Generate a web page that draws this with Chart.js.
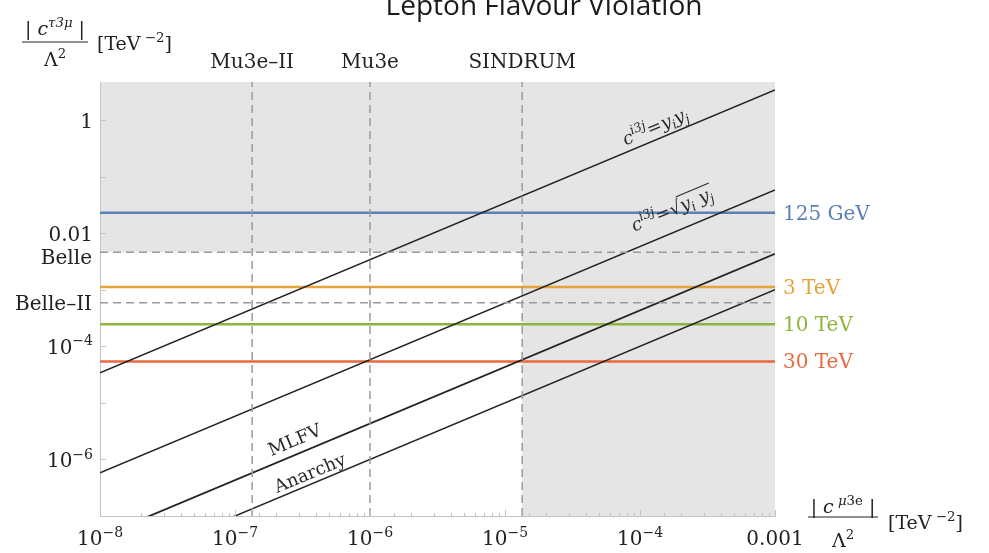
<!DOCTYPE html>
<html>
<head>
<meta charset="utf-8">
<script src="https://cdn.jsdelivr.net/npm/chart.js@4/dist/chart.umd.min.js"></script>
<style>
  body { margin: 0; background: #fff; }
</style>
</head>
<body>
<canvas id="c" width="989" height="553"></canvas>
<script>
// axis ranges
const xMin = 1e-8, xMax = 1e-3;
const yMin = 1e-7, yMax = 4.7;

// benchmark lines c/Λ² (tau) vs c/Λ² (mu), end points at xMin and xMax
const diagX = [1e-8, 1e-3];
const yukawaY = [3.4e-5, 3.4];
const sqrtYukawaY = [5.8e-7, 0.058];
const mlfvY = [4.3e-8, 4.3e-3];
const anarchyY = [1e-8, 1e-3];

// new physics scales (horizontal lines)
const scaleNames = ["125 GeV", "3 TeV", "10 TeV", "30 TeV"];
const scaleValues = [0.023, 1.12e-3, 2.45e-4, 5.4e-5];
const scaleColors = ["#5d80b6", "#e5a43a", "#8db43c", "#e8693f"];

// experimental reach
const muExpNames = ["Mu3e–II", "Mu3e", "SINDRUM"];
const muExpValues = [1.34e-7, 1e-6, 1.34e-5];
const tauExpNames = ["Belle", "Belle–II"];
const tauExpValues = [4.6e-3, 5.9e-4];

// tick labels: [mantissa, exponent]
const xTickValues = [1e-8, 1e-7, 1e-6, 1e-5, 1e-4, 1e-3];
const xTickLabels = [["10", "−8"], ["10", "−7"], ["10", "−6"], ["10", "−5"], ["10", "−4"], ["0.001", ""]];
const yTickValues = [1, 0.01, 1e-4, 1e-6];
const yTickLabels = [["1", ""], ["0.01", ""], ["10", "−4"], ["10", "−6"]];

const serif = '"DejaVu Serif", "Liberation Serif", serif';
const axisGray = "#c4c4c4";
const dashGray = "#9a9a9a";
const ink = "#222";

function isDecade(v) {
    const e = Math.log10(v);
    return Math.abs(e - Math.round(e)) < 1e-6;
}

// draw a run of text pieces; flags: i italic, ^ superscript, _ subscript, o overline
function drawRich(ctx, parts, x, y, size, align, color) {
    const items = parts.map(([t, f = ""]) => {
        const small = f.includes("^") || f.includes("_");
        const sz = small ? size * 0.7 : size;
        const font = (f.includes("i") ? "italic " : "") + sz + "px " + serif;
        ctx.font = font;
        return {
            t, font,
            w: ctx.measureText(t).width,
            dy: f.includes("^") ? -size * 0.42 : f.includes("_") ? size * 0.2 : 0,
            ov: f.includes("o")
        };
    });
    const total = items.reduce((a, it) => a + it.w, 0);
    let cx = align === "right" ? x - total : align === "center" ? x - total / 2 : x;
    ctx.fillStyle = color;
    ctx.textAlign = "left";
    ctx.textBaseline = "alphabetic";
    let ovStart = null, ovEnd = null;
    items.forEach(it => {
        ctx.font = it.font;
        ctx.fillText(it.t, cx, y + it.dy);
        if (it.ov) {
            if (ovStart === null) ovStart = cx;
            ovEnd = cx + it.w;
        }
        cx += it.w;
    });
    if (ovStart !== null) {
        ctx.strokeStyle = color;
        ctx.lineWidth = 1;
        ctx.beginPath();
        ctx.moveTo(ovStart - 1, y - size * 0.9);
        ctx.lineTo(ovEnd + 1, y - size * 0.9);
        ctx.stroke();
    }
}

const deco = {
    id: "deco",
    beforeDraw(chart) {
        const { ctx, chartArea: a, scales: { x, y } } = chart;
        ctx.save();
        ctx.fillStyle = "#e5e5e5";
        const yb = y.getPixelForValue(tauExpValues[0]);
        ctx.fillRect(a.left, a.top, a.right - a.left, yb - a.top);
        const xs = x.getPixelForValue(muExpValues[2]);
        ctx.fillRect(xs, yb, a.right - xs, a.bottom - yb);
        ctx.restore();
    },
    afterDraw(chart) {
        const { ctx, chartArea: a, scales: { x, y } } = chart;
        ctx.save();

        // inward tick marks, taken from the scales' own ticks
        ctx.strokeStyle = axisGray;
        ctx.lineWidth = 1;
        ctx.beginPath();
        x.ticks.forEach(t => {
            const px = Math.round(x.getPixelForValue(t.value)) + 0.5;
            const len = isDecade(t.value) ? 6 : 3;
            ctx.moveTo(px, a.bottom);
            ctx.lineTo(px, a.bottom - len);
        });
        y.ticks.forEach(t => {
            if (!isDecade(t.value)) return;
            const py = Math.round(y.getPixelForValue(t.value)) + 0.5;
            ctx.moveTo(a.left, py);
            ctx.lineTo(a.left + 6, py);
        });
        ctx.stroke();

        // title
        ctx.font = '28px "Open Sans", sans-serif';
        ctx.fillStyle = "#1a1a1a";
        ctx.textAlign = "center";
        ctx.textBaseline = "alphabetic";
        ctx.fillText("Lepton Flavour Violation", 544, 15);

        // tick labels
        xTickValues.forEach((v, i) => {
            const [m, e] = xTickLabels[i];
            drawRich(ctx, [[m], [e, "^"]], x.getPixelForValue(v), 545, 20, "center", ink);
        });
        yTickValues.forEach((v, i) => {
            const [m, e] = yTickLabels[i];
            drawRich(ctx, [[m], [e, "^"]], 93, y.getPixelForValue(v) + 7.5, 20, "right", ink);
        });

        // experiment labels
        muExpValues.forEach((v, i) => {
            drawRich(ctx, [[muExpNames[i]]], x.getPixelForValue(v), 68, 20, "center", ink);
        });
        const tauDy = [12, 7];
        tauExpValues.forEach((v, i) => {
            drawRich(ctx, [[tauExpNames[i]]], 92, y.getPixelForValue(v) + tauDy[i], 20, "right", ink);
        });

        // scale labels at the right
        scaleValues.forEach((v, i) => {
            drawRich(ctx, [[scaleNames[i]]], a.right + 8, y.getPixelForValue(v) + 7, 20, "left", scaleColors[i]);
        });

        // axis titles
        drawRich(ctx, [["|"], [" "], ["c", "i"], ["τ3μ", "i^"], [" "], ["|"]], 55, 35, 19, "center", ink);
        ctx.fillStyle = ink;
        ctx.fillRect(22, 41.5, 66, 1);
        drawRich(ctx, [["Λ"], ["2", "^"]], 55, 66, 19, "center", ink);
        drawRich(ctx, [["[TeV"], [" −2", "^"], ["]"]], 97, 50, 19, "left", ink);

        drawRich(ctx, [["|"], [" "], ["c", "i"], [" μ", "i^"], ["3e", "^"], [" "], ["|"]], 843, 513, 19, "center", ink);
        ctx.fillStyle = ink;
        ctx.fillRect(808, 516.5, 70, 1);
        drawRich(ctx, [["Λ"], ["2", "^"]], 843, 547, 19, "center", ink);
        drawRich(ctx, [["[TeV"], [" −2", "^"], ["]"]], 888, 529, 19, "left", ink);

        // rotated labels on the benchmark lines
        const ang = Math.atan2(
            y.getPixelForValue(yukawaY[1]) - y.getPixelForValue(yukawaY[0]),
            x.getPixelForValue(diagX[1]) - x.getPixelForValue(diagX[0])
        );
        const notes = [
            { px: 1.3e-4, py: 0.75, size: 18, parts: [["c", "i"], ["i3j", "i^"], ["="], ["y", "i"], ["i", "i_"], ["y", "i"], ["j", "i_"]] },
            { px: 1.73e-4, py: 0.0255, size: 18, parts: [["c", "i"], ["i3j", "i^"], ["="], ["√"], ["y", "io"], ["i", "i_o"], [" ", "o"], ["y", "io"], ["j", "i_o"]] },
            { px: 2.78e-7, py: 2.17e-6, size: 18, parts: [["MLFV"]] },
            { px: 3.6e-7, py: 5.65e-7, size: 18, parts: [["Anarchy"]] }
        ];
        notes.forEach(n => {
            ctx.save();
            ctx.translate(x.getPixelForValue(n.px), y.getPixelForValue(n.py));
            ctx.rotate(ang);
            drawRich(ctx, n.parts, 0, n.size * 0.3, n.size, "center", "#2a2a2a");
            ctx.restore();
        });

        ctx.restore();
    }
};

function segment(xs, ys) {
    return xs.map((v, i) => ({ x: v, y: ys[i] }));
}

const datasets = [];
// experimental limits (dashed)
muExpValues.forEach(v => datasets.push({
    data: [{ x: v, y: yMin }, { x: v, y: yMax }],
    borderColor: dashGray, borderWidth: 1.5, borderDash: [8, 5]
}));
tauExpValues.forEach(v => datasets.push({
    data: [{ x: xMin, y: v }, { x: xMax, y: v }],
    borderColor: dashGray, borderWidth: 1.5, borderDash: [8, 5]
}));
// benchmark lines
[[yukawaY, 1.5], [sqrtYukawaY, 1.5], [mlfvY, 1.8], [anarchyY, 1.5]].forEach(([ys, w]) => datasets.push({
    data: segment(diagX, ys),
    borderColor: ink, borderWidth: w
}));
// new physics scales
scaleValues.forEach((v, i) => datasets.push({
    data: [{ x: xMin, y: v }, { x: xMax, y: v }],
    borderColor: scaleColors[i], borderWidth: 2.6
}));
datasets.forEach(d => { d.showLine = true; d.pointRadius = 0; d.fill = false; });

new Chart(document.getElementById("c").getContext("2d"), {
    type: "scatter",
    data: { datasets },
    options: {
        responsive: false,
        animation: false,
        layout: { padding: { top: 82, right: 214, left: 0, bottom: 0 } },
        plugins: { legend: { display: false }, tooltip: { enabled: false } },
        scales: {
            x: {
                type: "logarithmic", min: xMin, max: xMax,
                border: { color: axisGray },
                grid: { drawOnChartArea: false, drawTicks: false },
                ticks: { autoSkip: false, callback: () => "" },
                afterFit(s) { s.height = 37; }
            },
            y: {
                type: "logarithmic", min: yMin, max: yMax,
                border: { color: axisGray },
                grid: { drawOnChartArea: false, drawTicks: false },
                ticks: { autoSkip: false, callback: () => "" },
                afterFit(s) { s.width = 100; }
            }
        }
    },
    plugins: [deco]
});
</script>
</body>
</html>
